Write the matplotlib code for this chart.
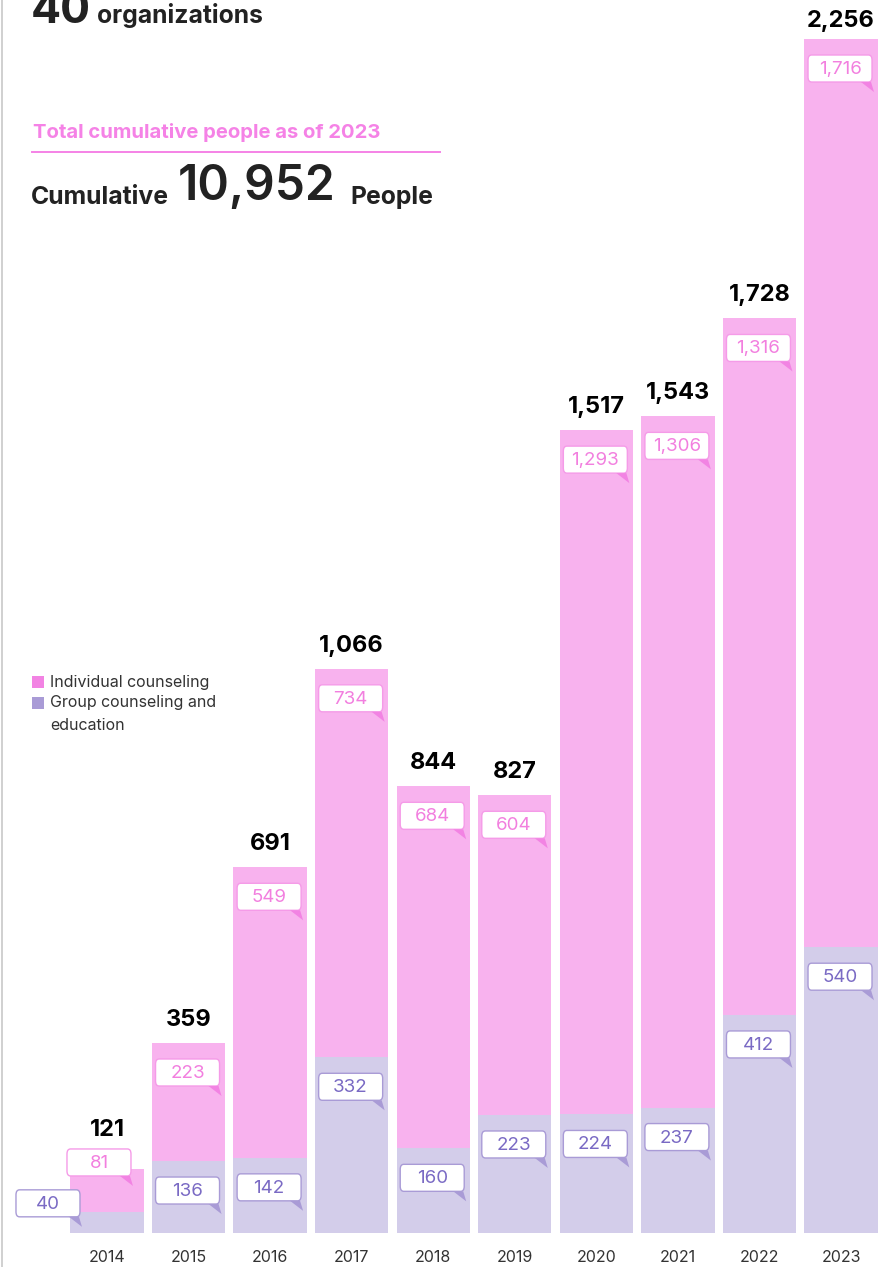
import numpy as np
import matplotlib.pyplot as plt
from matplotlib.patches import FancyBboxPatch, Polygon, Rectangle
from matplotlib.lines import Line2D

W, H = 887, 1267

years = ["2014", "2015", "2016", "2017", "2018", "2019", "2020", "2021", "2022", "2023"]
group = [40, 136, 142, 332, 160, 223, 224, 237, 412, 540]
individual = [81, 223, 549, 734, 684, 604, 1293, 1306, 1316, 1716]
totals = [121, 359, 691, 1066, 844, 827, 1517, 1543, 1728, 2256]

PINK_BAR = "#F8B2EE"
LAV_BAR = "#D3CDEA"
PINK_KEY = "#F283E3"
LAV_KEY = "#A99BD6"
PINK_TXT = "#F27FDF"
LAV_TXT = "#7A6AC4"
DARK = "#222222"

plt.rcParams['font.family'] = ['Inter', 'DejaVu Sans']

fig = plt.figure(figsize=(W / 100, H / 100), dpi=100)
fig.patch.set_facecolor("white")

# axes placed so that bar centres / baseline land where the reference has them
ax = fig.add_axes([66.2 / W, 34 / H, (881.8 - 66.2) / W, 1233 / H])
x = np.arange(len(years))
ax.bar(x, group, width=0.9, color=LAV_BAR, zorder=2)
ax.bar(x, individual, bottom=group, width=0.9, color=PINK_BAR, zorder=2)
ax.set_xlim(-0.5, 9.5)
ax.set_ylim(0, 2329.7)
for s in ax.spines.values():
    s.set_visible(False)
ax.set_yticks([])
ax.set_xticks(x, years)
ax.tick_params(axis="x", length=0, pad=12, labelsize=11.5, labelcolor="#333333")
ax.patch.set_alpha(0)


def fxy(px, py):
    # image pixel coords (y down) -> figure fraction
    return px / W, 1 - py / H


def to_img(xd, yd):
    d = ax.transData.transform((xd, yd))
    return d[0], H - d[1]


def label_box(left, top, text, edge, tail, tcolor):
    bw, bh = 64, 27
    l, b = fxy(left, top + bh)
    box = FancyBboxPatch((l, b), bw / W, bh / H,
                         boxstyle="round,pad=0,rounding_size=0.004",
                         transform=fig.transFigure, fc="white", ec=edge,
                         lw=1.0, zorder=5)
    fig.patches.append(box)
    r = left + bw
    bot = top + bh
    tri = Polygon([fxy(r - 11, bot), fxy(r - 1, bot), fxy(r + 2, bot + 10)],
                  closed=True, transform=fig.transFigure, fc=tail, ec="none",
                  zorder=5)
    fig.patches.append(tri)
    cx, cy = fxy(left + bw / 2, top + bh / 2 + 1)
    fig.text(cx, cy, text, ha="center", va="center", fontsize=13.5,
             color=tcolor, zorder=6)


for i in range(len(years)):
    cx, gtop = to_img(i, group[i])
    _, ttop = to_img(i, totals[i])
    if i == 0:
        # first bar is too short, boxes sit beside/above it
        p_left, p_top = cx - 40, ttop - 20
        g_left, g_top = cx - 91, gtop - 22
        lab_base = p_top - 13
    else:
        p_left, p_top = cx - 33, ttop + 16
        g_left, g_top = cx - 33, gtop + 16
        lab_base = max(ttop - 17, 27)
    label_box(p_left, p_top, f"{individual[i]:,}", "#F59BE8", PINK_KEY, PINK_TXT)
    label_box(g_left, g_top, f"{group[i]:,}", LAV_KEY, LAV_KEY, LAV_TXT)
    tx, ty = fxy(cx, lab_base)
    fig.text(tx, ty, f"{totals[i]:,}", ha="center", va="baseline",
             fontsize=17, fontweight="bold", color="black")

# header texts
fig.text(*fxy(31, 23), "40", fontsize=32, fontweight="bold", color=DARK,
         va="baseline")
fig.text(*fxy(97, 23), "organizations", fontsize=17.8, fontweight="bold",
         color=DARK, va="baseline")
fig.text(*fxy(33, 138), "Total cumulative people as of 2023", fontsize=14.6,
         fontweight="bold", color="#F582E6", va="baseline")
fig.add_artist(Line2D([32 / W, 440 / W], [1 - 152 / H, 1 - 152 / H],
                      color="#F582E6", lw=1.4))
fig.text(*fxy(31, 204), "Cumulative", fontsize=17.8, fontweight="bold",
         color=DARK, va="baseline")
fig.text(*fxy(178, 200), "10,952", fontsize=34.5, fontweight="semibold",
         color=DARK, va="baseline")
fig.text(*fxy(350, 204), "People", fontsize=17.8, fontweight="bold",
         color=DARK, va="baseline")

# legend
for yy, col, lines in [(676, PINK_KEY, ["Individual counseling"]),
                       (697, LAV_KEY, ["Group counseling and", "education"])]:
    l, b = fxy(32, yy + 12)
    fig.patches.append(Rectangle((l, b), 12 / W, 12 / H, transform=fig.transFigure,
                                 fc=col, ec="none"))
    for k, t in enumerate(lines):
        fig.text(*fxy(50, yy + 6 + 22 * k), t, fontsize=11.5, color="#333333",
                 va="center")

# left border line
fig.add_artist(Line2D([2.5 / W, 2.5 / W], [0, 1], color="#C8C8C8", lw=1.2))

fig.savefig("out.png", dpi=100)
